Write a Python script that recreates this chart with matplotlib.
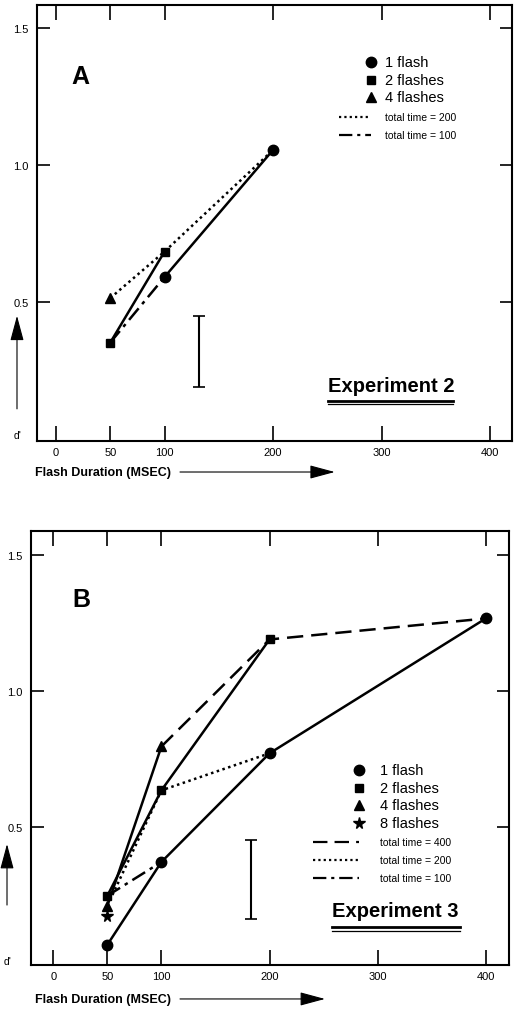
import matplotlib
matplotlib.use('Agg')
import matplotlib.pyplot as plt

plt.rcParams['font.family'] = ['Liberation Sans', 'DejaVu Sans']

# Panel A (Experiment 2) values, d' versus flash duration (msec)
a_x_1flash = [100, 200]
a_y_1flash = [0.59, 1.055]
a_x_2flash = [50, 100]
a_y_2flash = [0.35, 0.683]
a_x_4flash = [50]
a_y_4flash = [0.513]
a_x_tt200 = [50, 100, 200]
a_y_tt200 = [0.513, 0.683, 1.055]
a_x_tt100 = [50, 100]
a_y_tt100 = [0.35, 0.59]
a_err_x = 132
a_err_lo, a_err_hi = 0.189, 0.447

# Panel B (Experiment 3)
b_x_1flash = [50, 100, 200, 400]
b_y_1flash = [0.069, 0.373, 0.772, 1.267]
b_x_2flash = [50, 100, 200]
b_y_2flash = [0.249, 0.636, 1.19]
b_x_4flash = [50, 100]
b_y_4flash = [0.212, 0.797]
b_x_8flash = [50]
b_y_8flash = [0.176]
b_x_tt400 = [100, 200, 400]
b_y_tt400 = [0.797, 1.19, 1.267]
b_x_tt200 = [50, 100, 200]
b_y_tt200 = [0.212, 0.636, 0.772]
b_x_tt100 = [50, 100]
b_y_tt100 = [0.249, 0.373]
b_err_x = 183
b_err_lo, b_err_hi = 0.163, 0.455

x_ticks = [0, 50, 100, 200, 300, 400]
y_ticks = [0.5, 1.0, 1.5]
y_ticklabels = ['0.5', '1.0', '1.5']

DOT = (0, (1, 1.4))
DASHDOT = (0, (6, 2.2, 1.4, 2.2))
DASH = (0, (6.5, 3.2))

fig = plt.figure(figsize=(5.15, 10.12), dpi=100)
axA = fig.add_axes([0.0718, 0.5632, 0.9223, 0.4309])
axB = fig.add_axes([0.0602, 0.0455, 0.9282, 0.4285])


def style_axes(ax, xlim, ylim):
    ax.set_xlim(*xlim)
    ax.set_ylim(*ylim)
    for s in ax.spines.values():
        s.set_linewidth(1.5)
    ax.set_xticks(x_ticks)
    ax.set_yticks(y_ticks)
    ax.set_yticklabels(y_ticklabels)
    ax.tick_params(axis='x', direction='in', length=11, width=1.2, top=True,
                   labelsize=8, pad=4)
    ax.tick_params(axis='y', direction='in', length=9, width=1.2, right=True,
                   labelsize=8, pad=6)


def err(ax, x, lo, hi):
    ax.errorbar([x], [(lo + hi) / 2], yerr=[(hi - lo) / 2], fmt='none',
                ecolor='black', elinewidth=1.5, capsize=4.5, capthick=1.2)


def legend_rows(ax, x_mark, x_line0, x_text, rows, items):
    for yy, (kind, style, label) in zip(rows, items):
        if kind == 'm':
            ax.plot([x_mark], [yy], marker=style[0], ms=style[1], color='black',
                    transform=ax.transAxes, clip_on=False)
            ax.text(x_text, yy, label, fontsize=10.5, va='center', ha='left',
                    transform=ax.transAxes)
        else:
            ax.plot([x_line0, x_mark], [yy, yy], ls=style, lw=1.6, color='black',
                    transform=ax.transAxes)
            ax.text(x_text, yy, label, fontsize=7.5, va='center', ha='left',
                    transform=ax.transAxes)


def experiment_label(ax, x0, x1, ybase, y1, y2, label):
    ax.text(x0, ybase, label, fontsize=14.5, fontweight='bold', ha='left',
            va='baseline', transform=ax.transAxes)
    ax.plot([x0, x1], [y1, y1], color='black', lw=2.0, transform=ax.transAxes)
    ax.plot([x0, x1], [y2, y2], color='black', lw=0.9, transform=ax.transAxes)


# ---------- Panel A ----------
ax = axA
style_axes(ax, (-17.5, 420), (-0.01, 1.585))
ax.plot(a_x_1flash, a_y_1flash, '-', color='black', lw=1.8)
ax.plot(a_x_2flash, a_y_2flash, '-', color='black', lw=1.8)
ax.plot(a_x_tt200, a_y_tt200, ls=DOT, color='black', lw=1.8)
ax.plot(a_x_tt100, a_y_tt100, ls=DASHDOT, color='black', lw=1.8)
ax.plot(a_x_1flash, a_y_1flash, 'o', color='black', ms=7.5, ls='none')
ax.plot(a_x_2flash, a_y_2flash, 's', color='black', ms=6, ls='none')
ax.plot(a_x_4flash, a_y_4flash, '^', color='black', ms=6.5, ls='none')
err(ax, a_err_x, a_err_lo, a_err_hi)
ax.text(0.0905, 0.837, 'A', fontsize=18, fontweight='heavy', ha='center',
        va='center', transform=ax.transAxes)
legend_rows(ax, 0.703, 0.636, 0.733, [0.870, 0.829, 0.788, 0.742, 0.701],
            [('m', ('o', 7.5), '1 flash'), ('m', ('s', 6), '2 flashes'),
             ('m', ('^', 6.5), '4 flashes'), ('l', DOT, 'total time = 200'),
             ('l', DASHDOT, 'total time = 100')])
experiment_label(ax, 0.613, 0.876, 0.1147, 0.0924, 0.0849, 'Experiment 2')

# ---------- Panel B ----------
ax = axB
style_axes(ax, (-20.6, 421.5), (-0.005, 1.587))
ax.plot(b_x_1flash, b_y_1flash, '-', color='black', lw=1.8)
ax.plot(b_x_2flash, b_y_2flash, '-', color='black', lw=1.8)
ax.plot(b_x_4flash, b_y_4flash, '-', color='black', lw=1.8)
ax.plot(b_x_tt400, b_y_tt400, ls=DASH, color='black', lw=1.8)
ax.plot(b_x_tt200, b_y_tt200, ls=DOT, color='black', lw=1.8)
ax.plot(b_x_tt100, b_y_tt100, ls=DASHDOT, color='black', lw=1.8)
ax.plot(b_x_1flash, b_y_1flash, 'o', color='black', ms=7.5, ls='none')
ax.plot(b_x_2flash, b_y_2flash, 's', color='black', ms=6, ls='none')
ax.plot(b_x_4flash, b_y_4flash, '^', color='black', ms=6.5, ls='none')
ax.plot(b_x_8flash, b_y_8flash, '*', color='black', ms=8.5, ls='none')
err(ax, b_err_x, b_err_lo, b_err_hi)
ax.text(0.106, 0.844, 'B', fontsize=18, fontweight='heavy', ha='center',
        va='center', transform=ax.transAxes)
legend_rows(ax, 0.687, 0.590, 0.730,
            [0.450, 0.409, 0.369, 0.327, 0.283, 0.242, 0.201],
            [('m', ('o', 7.5), '1 flash'), ('m', ('s', 6), '2 flashes'),
             ('m', ('^', 6.5), '4 flashes'), ('m', ('*', 8.5), '8 flashes'),
             ('l', DASH, 'total time = 400'), ('l', DOT, 'total time = 200'),
             ('l', DASHDOT, 'total time = 100')])
experiment_label(ax, 0.629, 0.898, 0.113, 0.0883, 0.0777, 'Experiment 3')

# ---------- axis labels with arrows ----------
arrow = dict(arrowstyle='-|>,head_length=1.3,head_width=0.35', color='black',
             lw=0.8, mutation_scale=12, shrinkA=0, shrinkB=0)
for fy, x_end in [(0.5326, 0.650), (0.0119, 0.631)]:
    fig.text(0.068, fy, 'Flash Duration (MSEC)', fontsize=9, fontweight='bold',
             ha='left', va='center')
    fig.add_artist(matplotlib.patches.FancyArrowPatch(
        (0.3495, fy), (x_end, fy), transform=fig.transFigure, **arrow))

for fx, fy_lab, fy0, fy1 in [(0.033, 0.569, 0.595, 0.687),
                             (0.0136, 0.0497, 0.1047, 0.165)]:
    fig.text(fx + 0.002, fy_lab, "d'", fontsize=7.5, ha='center', va='center')
    fig.add_artist(matplotlib.patches.FancyArrowPatch(
        (fx, fy0), (fx, fy1), transform=fig.transFigure, **arrow))

fig.savefig('out.png', dpi=100)
